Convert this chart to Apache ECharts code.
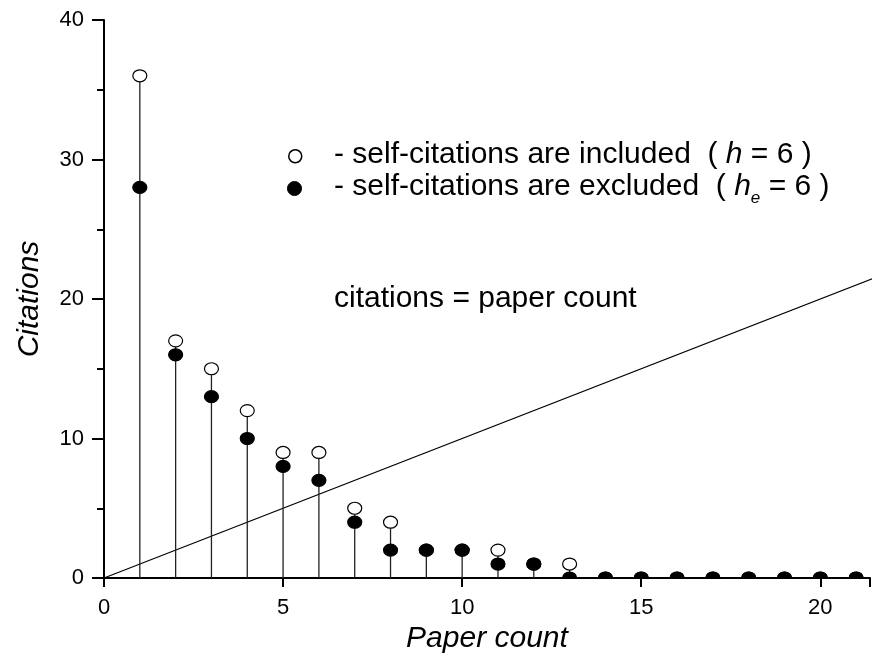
<!DOCTYPE html>
<html>
<head>
<meta charset="utf-8">
<script src="https://cdn.jsdelivr.net/npm/echarts@6/dist/echarts.min.js"></script>
<style>
html,body{margin:0;padding:0;background:#fff;}
#main{width:873px;height:661px;}
</style>
</head>
<body>
<div id="main"></div>
<script>
const paperCount   = [1,2,3,4,5,6,7,8,9,10,11,12,13,14,15,16,17,18,19,20,21];
const citIncluded  = [36,17,15,12,9,9,5,4,2,2,2,1,1,0,0,0,0,0,0,0,0];
const citExcluded  = [28,16,13,10,8,7,4,2,2,2,1,1,0,0,0,0,0,0,0,0,0];
const xTicks = [0,5,10,15,20];
const yTicks = [0,10,20,30,40];
const diagonal = [[0,0],[22,22]];
const xTitle = 'Paper count';
const yTitle = 'Citations';
const lineLabel = 'citations = paper count';

const FONT = '"Liberation Sans", Arial, sans-serif';
const chart = echarts.init(document.getElementById('main'), null, {renderer:'canvas'});

function markerItem(fillColor){
  return function(params, api){
    const p = api.coord([api.value(0), api.value(1)]);
    return {
      type:'ellipse',
      shape:{cx:p[0], cy:p[1], rx:7, ry:6},
      style:{fill:fillColor, stroke:'#000', lineWidth:1.2}
    };
  };
}

const option = {
  animation:false,
  backgroundColor:'#fff',
  grid:{left:104, top:20, right:-2, bottom:83, containLabel:false},
  xAxis:{
    type:'value', min:0, max:771/36.05, interval:5,
    axisLine:{show:true, onZero:false, lineStyle:{color:'#000', width:2}},
    axisTick:{show:true, length:9, inside:false, lineStyle:{color:'#000', width:2}},
    axisLabel:{show:true, margin:19, fontSize:22, fontFamily:FONT, color:'#000',
      formatter:v => xTicks.includes(v) ? String(v) : ''},
    splitLine:{show:false},
    name:xTitle, nameLocation:'middle', nameGap:45,
    nameTextStyle:{fontSize:30, fontStyle:'italic', fontFamily:FONT, color:'#000'}
  },
  yAxis:{
    type:'value', min:0, max:40, interval:10,
    axisLine:{show:true, onZero:false, lineStyle:{color:'#000', width:2}},
    axisTick:{show:true, length:12, lineStyle:{color:'#000', width:2}},
    minorTick:{show:true, splitNumber:2, length:7, lineStyle:{color:'#000', width:2}},
    axisLabel:{show:true, margin:20, fontSize:22, fontFamily:FONT, color:'#000',
      formatter:v => yTicks.includes(v) ? String(v) : ''},
    splitLine:{show:false},
    name:yTitle, nameLocation:'middle', nameGap:59, nameRotate:90,
    nameTextStyle:{fontSize:30, fontStyle:'italic', fontFamily:FONT, color:'#000'}
  },
  series:[
    {
      type:'line', data:diagonal, showSymbol:false, clip:true, silent:true,
      lineStyle:{color:'#000', width:1.2}, z:1
    },
    {
      type:'custom', clip:true, z:2,
      data:paperCount.map((x,i)=>[x, Math.max(citIncluded[i], citExcluded[i])]),
      renderItem:function(params, api){
        const a = api.coord([api.value(0), 0]);
        const b = api.coord([api.value(0), api.value(1)]);
        return {type:'line', shape:{x1:a[0], y1:a[1], x2:b[0], y2:b[1]},
          style:{stroke:'#222', lineWidth:1.3}};
      }
    },
    {
      type:'custom', clip:true, z:3,
      data:paperCount.map((x,i)=>[x, citIncluded[i]]),
      renderItem:markerItem('#fff')
    },
    {
      type:'custom', clip:true, z:4,
      data:paperCount.map((x,i)=>[x, citExcluded[i]]),
      renderItem:markerItem('#000')
    }
  ],
  graphic:[
    {type:'ellipse', left:288, top:149, shape:{cx:0, cy:0, rx:6.5, ry:6.5}, style:{fill:'#fff', stroke:'#000', lineWidth:1.5}},
    {type:'ellipse', left:287, top:181, shape:{cx:0, cy:0, rx:7, ry:7}, style:{fill:'#000', stroke:'#000', lineWidth:1}},
    {type:'text', left:334, top:140, style:{
      text:'- self-citations are included  ( {i|h} = 6 )',
      font:'30px ' + FONT, fill:'#000',
      rich:{i:{fontStyle:'italic', fontSize:30, fontFamily:FONT}}
    }},
    {type:'text', left:334, top:172, style:{
      text:'- self-citations are excluded  ( {i|h}{s|e} = 6 )',
      font:'30px ' + FONT, fill:'#000',
      rich:{i:{fontStyle:'italic', fontSize:30, fontFamily:FONT},
            s:{fontStyle:'italic', fontSize:17, fontFamily:FONT, padding:[22,0,0,0]}}
    }},
    {type:'text', left:334, top:284, style:{
      text:lineLabel, font:'30px ' + FONT, fill:'#000'
    }}
  ]
};
chart.setOption(option);
</script>
</body>
</html>
